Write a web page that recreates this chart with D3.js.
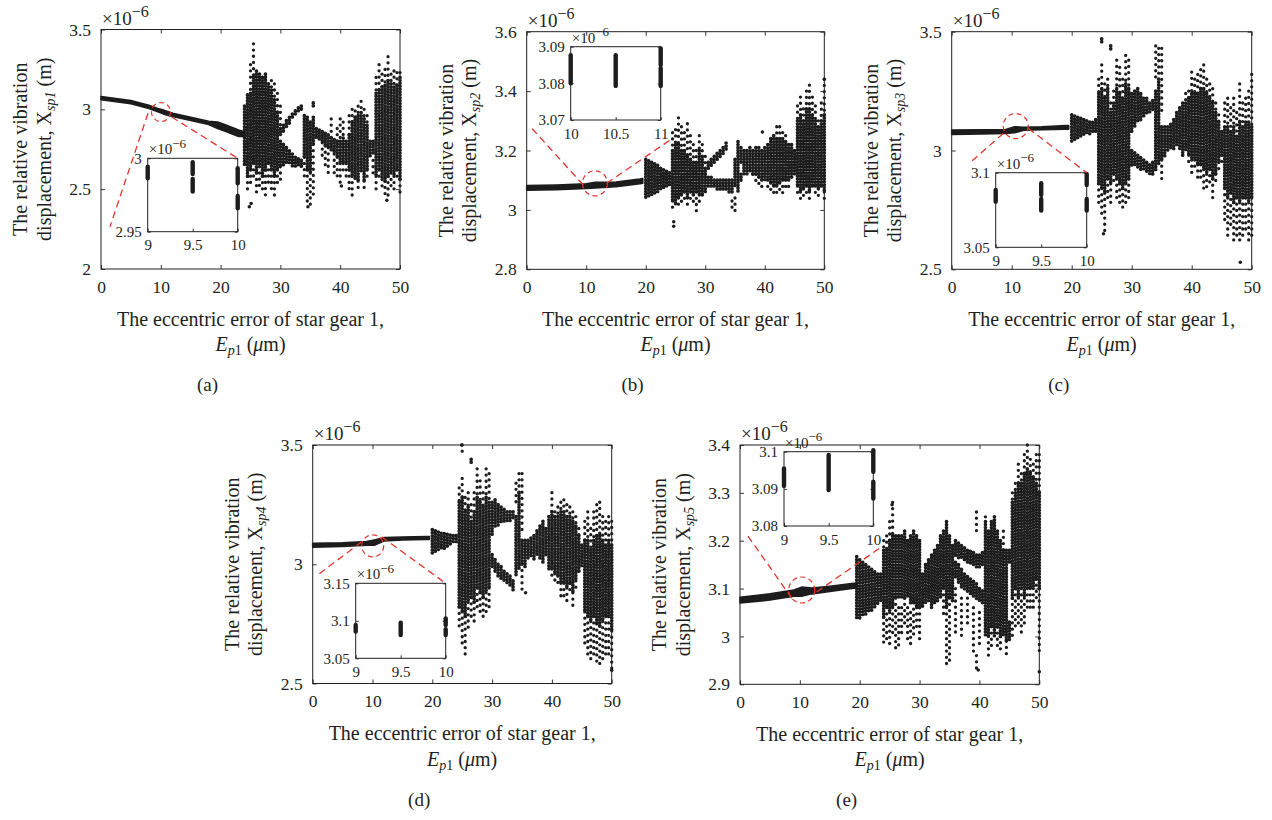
<!DOCTYPE html>
<html>
<head>
<meta charset="utf-8">
<script src="https://cdn.jsdelivr.net/npm/d3@7"></script>
<style>
  body { margin: 0; background: #fff; }
  text { font-family: "Liberation Serif", "Times New Roman", serif; fill: #231f20; }
</style>
</head>
<body>
<svg id="fig" width="1272" height="820"></svg>
<script>
// ---------- shared axis values ----------
const xTicks = [0, 10, 20, 30, 40, 50];
const xTickLabels = ["0", "10", "20", "30", "40", "50"];

// ---------- (a) X_sp1 ----------
const yTicksA = [2, 2.5, 3, 3.5];
const yTickLabelsA = ["2", "2.5", "3", "3.5"];
// period-1 branch: [E, lower, upper] (x1e-6 m)
const bandA = [[0,3.06,3.08],[5,3.035,3.055],[8,3.005,3.025],[9.5,2.985,3.005],[10.5,2.97,2.995],[12,2.955,2.975],[15,2.93,2.95],[18,2.905,2.925],[19.5,2.88,2.92],[21,2.86,2.90],[23,2.83,2.87],[24,2.83,2.86]];
// sampled Poincare points per E: [E, [[lo, hi, sparse?], ...]]
const colsA = [
 [24.0,[[2.65,3.02]]],
 [24.5,[[2.58,3.09],[2.50,2.58,1]]],
 [25.0,[[2.62,3.10],[3.10,3.28,1],[2.52,2.62,1]]],
 [25.5,[[2.66,3.20],[3.20,3.41,1],[2.56,2.66,1]]],
 [26.0,[[2.60,3.24],[2.48,2.60,1]]],
 [26.5,[[2.64,3.22],[2.52,2.64,1]]],
 [27.0,[[2.58,3.20],[2.48,2.58,1]]],
 [27.5,[[2.62,3.22],[2.46,2.62,1]]],
 [28.0,[[2.66,3.16],[2.52,2.66,1]]],
 [28.5,[[2.62,3.12],[2.50,2.62,1],[3.12,3.18,1]]],
 [29.0,[[2.58,3.06],[2.44,2.58,1],[3.06,3.16,1]]],
 [29.5,[[2.62,2.98],[2.52,2.62,1],[2.98,3.10,1]]],
 [30.0,[[2.64,2.80],[2.84,2.88],[2.56,2.64,1],[2.90,3.02,1]]],
 [30.5,[[2.64,2.78],[2.86,2.90]]],
 [31.0,[[2.66,2.76],[2.89,2.93]]],
 [31.5,[[2.66,2.74],[2.91,2.95]]],
 [32.0,[[2.64,2.72],[2.94,2.97]]],
 [32.5,[[2.64,2.70],[2.96,2.99]]],
 [33.0,[[2.65,2.69],[2.98,3.01]]],
 [33.5,[[2.64,2.68],[2.99,3.02]]],
 [34.0,[[2.70,2.96],[2.55,2.70,1]]],
 [34.5,[[2.62,2.95],[2.40,2.62,1]]],
 [35.0,[[2.60,2.92],[2.39,2.60,1]]],
 [35.5,[[2.78,2.95],[2.46,2.78,1],[3.02,3.04]]],
 [36.0,[[2.82,2.88]]],
 [36.5,[[2.80,2.87]]],
 [37.0,[[2.79,2.86],[2.70,2.79,1]]],
 [37.5,[[2.77,2.85],[2.62,2.77,1]]],
 [38.0,[[2.76,2.84],[2.60,2.76,1]]],
 [38.5,[[2.74,2.82],[2.82,2.94,1]]],
 [39.0,[[2.72,2.81],[2.58,2.72,1]]],
 [39.5,[[2.70,2.80],[2.80,2.88,1],[2.58,2.70,1]]],
 [40.0,[[2.66,2.80],[2.52,2.66,1],[2.80,2.94,1]]],
 [40.5,[[2.66,2.82],[2.82,2.92,1],[2.60,2.66,1]]],
 [41.0,[[2.66,2.80],[2.56,2.66,1]]],
 [41.5,[[2.62,2.84],[2.50,2.62,1],[2.84,2.96,1]]],
 [42.0,[[2.58,2.92],[2.46,2.58,1],[2.92,3.00,1]]],
 [42.5,[[2.56,2.95],[2.95,2.99,1]]],
 [43.0,[[2.55,2.96],[2.48,2.55,1],[2.96,3.02,1]]],
 [43.5,[[2.60,2.98],[2.98,3.05,1]]],
 [44.0,[[2.55,2.94],[2.50,2.55,1],[2.94,3.00,1]]],
 [44.5,[[2.62,2.90],[2.90,2.96,1],[2.56,2.62,1]]],
 [45.0,[[2.70,2.80]]],
 [45.5,[[2.71,2.80],[2.60,2.68,1]]],
 [46.0,[[2.58,3.10],[3.10,3.20,1],[2.48,2.58,1]]],
 [46.5,[[2.62,3.12],[3.12,3.28,1],[2.55,2.62,1]]],
 [47.0,[[2.56,3.14],[3.14,3.22,1],[2.50,2.56,1]]],
 [47.5,[[2.55,3.15],[3.15,3.25,1],[2.44,2.55,1]]],
 [48.0,[[2.58,3.18],[3.18,3.33,1],[2.43,2.58,1]]],
 [48.5,[[2.60,3.16],[3.16,3.22,1],[2.50,2.60,1]]],
 [49.0,[[2.58,3.14],[3.14,3.24,1],[2.50,2.58,1]]],
 [49.5,[[2.62,3.15],[3.15,3.23,1],[2.55,2.62,1]]],
 [50.0,[[2.56,3.20],[3.20,3.23,1],[2.46,2.56,1]]]
];
const dotsA = [[24.8,2.39],[25.1,2.41],[34.6,2.39],[47.8,2.43],[40.2,2.52]];
const insetXTicksA = [9, 9.5, 10];
const insetXLabelsA = ["9", "9.5", "10"];
const insetYTicksA = [2.95, 3];
const insetYLabelsA = ["2.95", "3"];
const insetBarsA = [[9,2.9864,2.9943],[9.5,2.9893,2.9973],[9.5,2.9773,2.9859],[10,2.983,2.9932],[10,2.9659,2.9743]];

// ---------- (b) X_sp2 ----------
const yTicksB = [2.8, 3, 3.2, 3.4, 3.6];
const yTickLabelsB = ["2.8", "3", "3.2", "3.4", "3.6"];
const bandB = [[0,3.066,3.082],[5,3.068,3.084],[10,3.072,3.088],[11.5,3.074,3.093],[15,3.078,3.094],[19,3.088,3.104],[19.5,3.09,3.106]];
const colsB = [
 [20.0,[[3.04,3.17]]],
 [20.5,[[3.045,3.165]]],
 [21.0,[[3.05,3.16]]],
 [21.5,[[3.055,3.155]]],
 [22.0,[[3.06,3.15]]],
 [22.5,[[3.065,3.14]]],
 [23.0,[[3.07,3.135]]],
 [23.5,[[3.075,3.13]]],
 [24.0,[[3.08,3.125]]],
 [24.5,[[3.03,3.20],[3.20,3.26,1],[3.00,3.03,1]]],
 [25.0,[[3.02,3.22],[3.22,3.27,1],[3.00,3.02,1]]],
 [25.5,[[3.04,3.22],[3.22,3.31,1],[3.00,3.04,1]]],
 [26.0,[[3.05,3.20],[3.20,3.28,1],[3.02,3.05,1]]],
 [26.5,[[3.06,3.20],[3.20,3.26,1],[3.03,3.06,1]]],
 [27.0,[[3.04,3.18],[3.18,3.29,1],[3.00,3.04,1]]],
 [27.5,[[3.06,3.17],[3.17,3.25,1],[3.03,3.06,1]]],
 [28.0,[[3.05,3.16],[3.16,3.22,1],[3.02,3.05,1]]],
 [28.5,[[3.06,3.16],[3.16,3.20,1],[2.99,3.06,1]]],
 [29.0,[[3.05,3.20],[3.20,3.25,1],[3.02,3.05,1]]],
 [29.5,[[3.05,3.18],[3.18,3.22,1],[3.03,3.05,1]]],
 [30.0,[[3.06,3.14],[3.14,3.18,1]]],
 [30.5,[[3.08,3.11],[3.14,3.16]]],
 [31.0,[[3.08,3.11],[3.15,3.17]]],
 [31.5,[[3.08,3.10],[3.16,3.18]]],
 [32.0,[[3.07,3.10],[3.17,3.19]]],
 [32.5,[[3.07,3.10],[3.18,3.20]]],
 [33.0,[[3.07,3.10],[3.19,3.21]]],
 [33.5,[[3.07,3.10],[3.20,3.225]]],
 [34.0,[[3.06,3.10]]],
 [34.5,[[3.06,3.10],[3.00,3.03,1]]],
 [35.0,[[3.08,3.17],[2.99,3.04,1]]],
 [35.5,[[3.06,3.23]]],
 [36.0,[[3.10,3.12],[3.16,3.21]]],
 [36.5,[[3.12,3.20]]],
 [37.0,[[3.12,3.20]]],
 [37.5,[[3.13,3.21]]],
 [38.0,[[3.12,3.20],[3.10,3.12,1]]],
 [38.5,[[3.12,3.21],[3.08,3.12,1]]],
 [39.0,[[3.11,3.21],[3.08,3.11,1]]],
 [39.5,[[3.10,3.20],[3.06,3.10,1]]],
 [40.0,[[3.10,3.21]]],
 [40.5,[[3.10,3.22],[3.06,3.10,1]]],
 [41.0,[[3.09,3.24],[3.05,3.09,1]]],
 [41.5,[[3.08,3.25],[3.04,3.08,1]]],
 [42.0,[[3.08,3.24],[3.24,3.28,1],[3.04,3.08,1]]],
 [42.5,[[3.09,3.24],[3.24,3.28,1],[3.05,3.09,1]]],
 [43.0,[[3.10,3.24],[3.24,3.26,1],[3.05,3.10,1]]],
 [43.5,[[3.10,3.23],[3.23,3.25,1],[3.07,3.10,1]]],
 [44.0,[[3.10,3.22],[3.06,3.10,1]]],
 [44.5,[[3.11,3.22],[3.09,3.11,1]]],
 [45.0,[[3.12,3.20]]],
 [45.5,[[3.08,3.30],[3.30,3.35,1],[3.05,3.08,1]]],
 [46.0,[[3.06,3.32],[3.32,3.38,1],[3.03,3.06,1]]],
 [46.5,[[3.07,3.30],[3.30,3.34,1],[3.04,3.07,1]]],
 [47.0,[[3.08,3.34],[3.34,3.40,1],[3.05,3.08,1]]],
 [47.5,[[3.06,3.34],[3.34,3.42,1],[3.03,3.06,1]]],
 [48.0,[[3.08,3.32],[3.32,3.38,1],[3.06,3.08,1]]],
 [48.5,[[3.08,3.30],[3.30,3.35,1],[3.05,3.08,1]]],
 [49.0,[[3.07,3.28],[3.28,3.30,1],[3.04,3.07,1]]],
 [49.5,[[3.08,3.30],[3.30,3.36,1],[3.06,3.08,1]]],
 [50.0,[[3.06,3.32],[3.32,3.44,1],[3.03,3.06,1]]]
];
const dotsB = [[24.7,2.945],[24.7,2.96],[39.6,3.262],[50,3.44]];
const insetXTicksB = [10, 10.5, 11];
const insetXLabelsB = ["10", "10.5", "11"];
const insetYTicksB = [3.07, 3.08, 3.09];
const insetYLabelsB = ["3.07", "3.08", "3.09"];
const insetBarsB = [[10,3.08,3.0877],[10.5,3.0793,3.0877],[11,3.085,3.0895],[11,3.0793,3.0841]];

// ---------- (c) X_sp3 ----------
const yTicksC = [2.5, 3, 3.5];
const yTickLabelsC = ["2.5", "3", "3.5"];
const bandC = [[0,3.068,3.086],[5,3.07,3.087],[9,3.072,3.088],[10.5,3.075,3.10],[12,3.085,3.098],[15,3.088,3.10],[19,3.09,3.105],[19.5,3.09,3.105]];
const colsC = [
 [20.0,[[3.04,3.15]]],
 [20.5,[[3.045,3.145]]],
 [21.0,[[3.05,3.14]]],
 [21.5,[[3.055,3.135]]],
 [22.0,[[3.06,3.13]]],
 [22.5,[[3.065,3.125]]],
 [23.0,[[3.07,3.12]]],
 [23.5,[[3.075,3.118]]],
 [24.0,[[3.08,3.13]]],
 [24.5,[[2.86,3.24],[3.24,3.30,1],[2.78,2.86,1]]],
 [25.0,[[2.84,3.26],[3.26,3.36,1],[2.72,2.84,1],[3.45,3.47]]],
 [25.5,[[2.82,3.22],[3.22,3.28,1],[2.65,2.82,1]]],
 [26.0,[[2.88,3.26],[3.26,3.30,1],[2.80,2.88,1]]],
 [26.5,[[2.86,3.16],[3.16,3.20,1],[2.76,2.86,1],[3.42,3.44]]],
 [27.0,[[2.90,3.20],[3.20,3.25,1],[2.85,2.90,1]]],
 [27.5,[[2.88,3.26],[3.26,3.38,1],[2.80,2.88,1]]],
 [28.0,[[2.86,3.24],[3.24,3.35,1],[2.78,2.86,1]]],
 [28.5,[[2.84,3.22],[3.22,3.30,1],[2.75,2.84,1]]],
 [29.0,[[2.86,3.28],[3.28,3.40,1],[2.78,2.86,1]]],
 [29.5,[[2.88,3.26],[3.26,3.38,1],[2.80,2.88,1]]],
 [30.0,[[2.93,3.00],[3.08,3.24]]],
 [30.5,[[2.94,2.99],[3.10,3.25]]],
 [31.0,[[2.93,2.98],[3.12,3.26]]],
 [31.5,[[2.92,2.97],[3.13,3.24]]],
 [32.0,[[2.92,2.96],[3.14,3.22]]],
 [32.5,[[2.91,2.95],[3.15,3.22]]],
 [33.0,[[2.90,2.94],[3.16,3.20]]],
 [33.5,[[2.90,2.95],[3.17,3.21]]],
 [34.0,[[2.92,3.25],[3.30,3.44,1]]],
 [34.5,[[2.94,3.30],[3.32,3.43,1]]],
 [35.0,[[2.96,3.10],[3.15,3.43,1],[2.86,2.96,1]]],
 [35.5,[[2.97,3.10]]],
 [36.0,[[3.00,3.10]]],
 [36.5,[[3.01,3.11]]],
 [37.0,[[3.00,3.13]]],
 [37.5,[[3.02,3.16]]],
 [38.0,[[3.00,3.18]]],
 [38.5,[[2.98,3.20]]],
 [39.0,[[3.00,3.20],[3.20,3.24,1]]],
 [39.5,[[2.98,3.22],[3.22,3.25,1],[2.95,2.98,1]]],
 [40.0,[[2.96,3.24],[3.24,3.33,1],[2.90,2.96,1]]],
 [40.5,[[2.96,3.24],[3.24,3.30,1],[2.92,2.96,1]]],
 [41.0,[[2.94,3.24],[3.24,3.32,1],[2.88,2.94,1]]],
 [41.5,[[2.94,3.26],[3.26,3.34,1],[2.87,2.94,1]]],
 [42.0,[[2.92,3.26],[3.26,3.36,1],[2.84,2.92,1]]],
 [42.5,[[2.90,3.24],[3.24,3.30,1],[2.83,2.90,1]]],
 [43.0,[[2.92,3.22],[3.22,3.28,1],[2.86,2.92,1]]],
 [43.5,[[2.88,3.20],[3.20,3.26,1],[2.80,2.88,1]]],
 [44.0,[[2.90,3.16],[3.16,3.20,1],[2.85,2.90,1]]],
 [44.5,[[2.95,3.12],[3.12,3.15,1],[2.92,2.95,1]]],
 [45.0,[[2.98,3.08],[2.95,2.98,1]]],
 [45.5,[[2.84,3.10],[3.10,3.20,1],[2.70,2.84,1]]],
 [46.0,[[2.80,3.10],[3.10,3.22,1],[2.62,2.80,1]]],
 [46.5,[[2.82,3.08],[3.08,3.18,1],[2.68,2.82,1]]],
 [47.0,[[2.78,3.10],[3.10,3.22,1],[2.60,2.78,1]]],
 [47.5,[[2.80,3.06],[3.06,3.16,1],[2.62,2.80,1]]],
 [48.0,[[2.78,3.12],[3.12,3.28,1],[2.60,2.78,1]]],
 [48.5,[[2.80,3.10],[3.10,3.20,1],[2.62,2.80,1]]],
 [49.0,[[2.80,3.12],[3.12,3.22,1],[2.65,2.80,1]]],
 [49.5,[[2.78,3.12],[3.12,3.25,1],[2.60,2.78,1]]],
 [50.0,[[2.80,3.10],[3.10,3.32,1],[2.62,2.80,1]]]
];
const dotsC = [[48.1,2.53],[25.3,2.65]];
const insetXTicksC = [9, 9.5, 10];
const insetXLabelsC = ["9", "9.5", "10"];
const insetYTicksC = [3.05, 3.1];
const insetYLabelsC = ["3.05", "3.1"];
const insetBarsC = [[9,3.0806,3.0884],[9.5,3.085,3.0929],[9.5,3.0746,3.0824],[10,3.0917,3.0991],[10,3.0746,3.0824]];

// ---------- (d) X_sp4 ----------
const yTicksD = [2.5, 3, 3.5];
const yTickLabelsD = ["2.5", "3", "3.5"];
const bandD = [[0,3.072,3.088],[5,3.075,3.09],[9,3.08,3.095],[10.3,3.08,3.102],[12,3.098,3.112],[15,3.102,3.114],[19,3.104,3.116],[19.5,3.104,3.116]];
const colsD = [
 [20.0,[[3.04,3.145]]],
 [20.5,[[3.045,3.14]]],
 [21.0,[[3.05,3.135]]],
 [21.5,[[3.06,3.13]]],
 [22.0,[[3.065,3.128]]],
 [22.5,[[3.07,3.125]]],
 [23.0,[[3.08,3.122]]],
 [23.5,[[3.085,3.12]]],
 [24.0,[[3.09,3.12]]],
 [24.5,[[2.82,3.26],[3.26,3.32,1],[2.72,2.82,1]]],
 [25.0,[[2.80,3.28],[3.28,3.36,1],[2.65,2.80,1],[3.46,3.50,1]]],
 [25.5,[[2.78,3.22],[3.22,3.28,1],[2.62,2.78,1]]],
 [26.0,[[2.84,3.24],[3.24,3.30,1],[2.72,2.84,1]]],
 [26.5,[[2.86,3.18],[3.18,3.25,1],[2.78,2.86,1],[3.42,3.44]]],
 [27.0,[[2.84,3.22],[3.22,3.30,1],[2.75,2.84,1]]],
 [27.5,[[2.90,3.28],[3.28,3.40,1],[2.82,2.90,1]]],
 [28.0,[[2.88,3.26],[3.26,3.35,1],[2.78,2.88,1]]],
 [28.5,[[2.86,3.24],[3.24,3.30,1],[2.76,2.86,1]]],
 [29.0,[[2.88,3.28],[3.28,3.40,1],[2.80,2.88,1]]],
 [29.5,[[2.90,3.26],[3.26,3.38,1],[2.82,2.90,1]]],
 [30.0,[[2.98,3.04],[3.12,3.26]]],
 [30.5,[[2.96,3.02],[3.15,3.27]]],
 [31.0,[[2.95,3.00],[3.16,3.25]]],
 [31.5,[[2.94,2.99],[3.17,3.24]]],
 [32.0,[[2.93,2.97],[3.17,3.23]]],
 [32.5,[[2.92,2.96],[3.18,3.22]]],
 [33.0,[[2.91,2.95],[3.18,3.22]]],
 [33.5,[[2.89,2.93],[3.19,3.22]]],
 [34.0,[[2.95,3.20],[3.25,3.34,1]]],
 [34.5,[[2.98,3.30],[3.30,3.38,1]]],
 [35.0,[[3.00,3.10],[3.14,3.38,1],[2.88,3.00,1]]],
 [35.5,[[2.98,3.10]]],
 [36.0,[[3.02,3.10]]],
 [36.5,[[3.03,3.11]]],
 [37.0,[[3.02,3.12]]],
 [37.5,[[3.04,3.14]]],
 [38.0,[[3.02,3.16]]],
 [38.5,[[3.00,3.18]]],
 [39.0,[[3.03,3.15]]],
 [39.5,[[2.98,3.20]]],
 [40.0,[[2.98,3.22],[3.22,3.30,1],[2.95,2.98,1]]],
 [40.5,[[2.96,3.20],[3.20,3.22,1],[2.92,2.96,1]]],
 [41.0,[[2.95,3.20],[3.20,3.24,1],[2.90,2.95,1]]],
 [41.5,[[2.92,3.22],[3.22,3.26,1],[2.85,2.92,1]]],
 [42.0,[[2.92,3.22],[3.22,3.27,1],[2.86,2.92,1]]],
 [42.5,[[2.90,3.20],[3.20,3.25,1],[2.84,2.90,1]]],
 [43.0,[[2.92,3.20],[3.20,3.24,1],[2.88,2.92,1]]],
 [43.5,[[2.88,3.18],[3.18,3.22,1],[2.82,2.88,1]]],
 [44.0,[[2.93,3.16],[3.16,3.20,1],[2.90,2.93,1]]],
 [44.5,[[2.97,3.12],[3.12,3.15,1],[2.95,2.97,1]]],
 [45.0,[[2.99,3.08]]],
 [45.5,[[2.80,3.10],[3.10,3.18,1],[2.65,2.80,1]]],
 [46.0,[[2.78,3.10],[3.10,3.22,1],[2.62,2.78,1]]],
 [46.5,[[2.76,3.06],[3.06,3.15,1],[2.60,2.76,1]]],
 [47.0,[[2.78,3.10],[3.10,3.22,1],[2.62,2.78,1]]],
 [47.5,[[2.75,3.12],[3.12,3.25,1],[2.58,2.75,1]]],
 [48.0,[[2.74,3.12],[3.12,3.26,1],[2.58,2.74,1]]],
 [48.5,[[2.76,3.10],[3.10,3.20,1],[2.60,2.76,1]]],
 [49.0,[[2.78,3.08],[3.08,3.18,1],[2.62,2.78,1]]],
 [49.5,[[2.78,3.10],[3.10,3.20,1],[2.62,2.78,1]]],
 [50.0,[[2.72,3.08],[3.08,3.18,1],[2.56,2.72,1]]]
];
const dotsD = [[24.9,3.50],[35.6,2.88],[50,2.556]];
const insetXTicksD = [9, 9.5, 10];
const insetXLabelsD = ["9", "9.5", "10"];
const insetYTicksD = [3.05, 3.1, 3.15];
const insetYLabelsD = ["3.05", "3.1", "3.15"];
const insetBarsD = [[9,3.0856,3.0944],[9.5,3.0811,3.0976],[10,3.0944,3.1033],[10,3.0811,3.0887]];

// ---------- (e) X_sp5 ----------
const yTicksE = [2.9, 3, 3.1, 3.2, 3.3, 3.4];
const yTickLabelsE = ["2.9", "3", "3.1", "3.2", "3.3", "3.4"];
const bandE = [[0,3.07,3.082],[5,3.076,3.089],[9,3.084,3.097],[10.3,3.084,3.103],[12,3.089,3.101],[15,3.094,3.105],[19,3.101,3.111],[19.5,3.101,3.111]];
const colsE = [
 [19.5,[[3.035,3.167]]],
 [20.0,[[3.035,3.16]]],
 [20.5,[[3.04,3.155]]],
 [21.0,[[3.045,3.15]]],
 [21.5,[[3.05,3.145]]],
 [22.0,[[3.055,3.14]]],
 [22.5,[[3.06,3.135]]],
 [23.0,[[3.065,3.13]]],
 [23.5,[[3.07,3.13]]],
 [24.0,[[3.04,3.18],[3.18,3.20,1],[2.98,3.04,1]]],
 [24.5,[[3.06,3.18],[3.18,3.21,1],[2.99,3.06,1]]],
 [25.0,[[3.05,3.20],[3.20,3.24,1],[2.98,3.05,1]]],
 [25.5,[[3.06,3.21],[3.21,3.28,1],[3.00,3.06,1]]],
 [26.0,[[3.08,3.21],[2.97,3.08,1]]],
 [26.5,[[3.08,3.21],[2.98,3.06,1]]],
 [27.0,[[3.08,3.21],[3.00,3.06,1]]],
 [27.5,[[3.08,3.22],[3.02,3.08,1]]],
 [28.0,[[3.08,3.20],[2.99,3.06,1]]],
 [28.5,[[3.07,3.21],[2.98,3.05,1]]],
 [29.0,[[3.07,3.22],[3.00,3.07,1]]],
 [29.5,[[3.06,3.21],[3.02,3.06,1]]],
 [30.0,[[3.06,3.20],[2.99,3.06,1]]],
 [30.5,[[3.06,3.13]]],
 [31.0,[[3.07,3.15]]],
 [31.5,[[3.07,3.16]]],
 [32.0,[[3.06,3.17]]],
 [32.5,[[3.07,3.18]]],
 [33.0,[[3.07,3.19]]],
 [33.5,[[3.08,3.21]]],
 [34.0,[[3.10,3.22],[3.04,3.10,1]]],
 [34.5,[[3.06,3.24],[2.94,3.06,1]]],
 [35.0,[[3.08,3.21],[2.95,3.08,1]]],
 [35.5,[[3.07,3.19]]],
 [36.0,[[3.12,3.155],[3.165,3.20],[3.00,3.10,1]]],
 [36.5,[[3.11,3.15],[3.16,3.195]]],
 [37.0,[[3.10,3.14],[3.16,3.19],[3.00,3.08,1]]],
 [37.5,[[3.095,3.13],[3.155,3.185]]],
 [38.0,[[3.09,3.125],[3.15,3.18],[3.02,3.08,1]]],
 [38.5,[[3.085,3.12],[3.148,3.178]]],
 [39.0,[[3.08,3.115],[3.145,3.175],[2.96,3.06,1]]],
 [39.5,[[3.075,3.11],[3.14,3.17],[3.22,3.26,1],[2.93,2.96,1]]],
 [40.0,[[3.07,3.10],[3.14,3.17],[2.98,3.05,1]]],
 [40.5,[[3.065,3.095],[3.145,3.175]]],
 [41.0,[[3.00,3.24],[3.24,3.25,1]]],
 [41.5,[[3.00,3.22],[2.96,3.00,1]]],
 [42.0,[[3.02,3.24],[2.97,3.02,1]]],
 [42.5,[[3.00,3.25]]],
 [43.0,[[3.02,3.22],[2.98,3.02,1]]],
 [43.5,[[3.00,3.20],[2.97,3.00,1]]],
 [44.0,[[3.00,3.18],[3.18,3.22,1]]],
 [44.5,[[2.99,3.18],[2.96,2.99,1]]],
 [45.0,[[2.99,3.03],[3.15,3.18]]],
 [45.5,[[3.08,3.28],[3.28,3.30,1],[3.00,3.08,1]]],
 [46.0,[[3.10,3.30],[3.30,3.32,1],[3.01,3.10,1]]],
 [46.5,[[3.08,3.32],[3.32,3.36,1],[3.02,3.08,1]]],
 [47.0,[[3.10,3.32],[3.32,3.34,1],[3.00,3.10,1]]],
 [47.5,[[3.08,3.34],[3.34,3.38,1],[3.02,3.08,1]]],
 [48.0,[[3.10,3.35],[3.35,3.40,1],[3.05,3.10,1]]],
 [48.5,[[3.10,3.34],[3.34,3.37,1],[3.06,3.10,1]]],
 [49.0,[[3.10,3.33],[3.33,3.36,1],[3.05,3.10,1]]],
 [49.5,[[3.12,3.32],[3.32,3.38,1],[3.07,3.12,1]]],
 [50.0,[[3.10,3.30],[3.30,3.38,1],[2.96,3.10,1]]]
];
const dotsE = [[50,2.926],[39.8,2.93],[25.4,3.275]];
const insetXTicksE = [9, 9.5, 10];
const insetXLabelsE = ["9", "9.5", "10"];
const insetYTicksE = [3.08, 3.09, 3.1];
const insetYLabelsE = ["3.08", "3.09", "3.1"];
const insetBarsE = [[9,3.0908,3.0955],[9.5,3.0897,3.0991],[10,3.0946,3.1004],[10,3.0874,3.0919]];

// zoom markers: circle [E, X, radius px]; dashed leader lines in main-axis units ("tr" = inset top-right corner)
const zoomA = { circle: [10.03, 2.983, 9.5], lines: [[[7.86,2.975],[1.5,2.264]], [[11.82,2.952],"tr"]] };
const zoomB = { circle: [11.47, 3.0896, 12.5], lines: [[[9.51,3.084],[0.84,3.275]], [[13.44,3.09],[24.08,3.235]]] };
const zoomC = { circle: [10.67, 3.103, 12.5], lines: [[[8.6,3.072],[2.93,2.946]], [[12.77,3.093],"tr"]] };
const zoomD = { circle: [10.03, 3.077, 11], lines: [[[8.19,3.094],[0.67,2.952]], [[11.54,3.115],"tr"]] };
const zoomE = { circle: [10.31, 3.097, 13], lines: [[[8.64,3.08],[1.0,3.2155]], [[12.81,3.093],[23.27,3.184]]] };

// ---------- assembly ----------
const panels = [
  { tag: "(a)", sub: "1", yDomain: [2, 3.5], yTicks: yTicksA, yLabels: yTickLabelsA, band: bandA, cols: colsA, dots: dotsA,
    inset: { xDomain: [9, 10], yDomain: [2.95, 3], xTicks: insetXTicksA, xLabels: insetXLabelsA, yTicks: insetYTicksA, yLabels: insetYLabelsA, bars: insetBarsA },
    zoom: zoomA },
  { tag: "(b)", sub: "2", yDomain: [2.8, 3.6], yTicks: yTicksB, yLabels: yTickLabelsB, band: bandB, cols: colsB, dots: dotsB,
    inset: { xDomain: [10, 11], yDomain: [3.07, 3.09], xTicks: insetXTicksB, xLabels: insetXLabelsB, yTicks: insetYTicksB, yLabels: insetYLabelsB, bars: insetBarsB },
    zoom: zoomB },
  { tag: "(c)", sub: "3", yDomain: [2.5, 3.5], yTicks: yTicksC, yLabels: yTickLabelsC, band: bandC, cols: colsC, dots: dotsC,
    inset: { xDomain: [9, 10], yDomain: [3.05, 3.1], xTicks: insetXTicksC, xLabels: insetXLabelsC, yTicks: insetYTicksC, yLabels: insetYLabelsC, bars: insetBarsC },
    zoom: zoomC },
  { tag: "(d)", sub: "4", yDomain: [2.5, 3.5], yTicks: yTicksD, yLabels: yTickLabelsD, band: bandD, cols: colsD, dots: dotsD,
    inset: { xDomain: [9, 10], yDomain: [3.05, 3.15], xTicks: insetXTicksD, xLabels: insetXLabelsD, yTicks: insetYTicksD, yLabels: insetYLabelsD, bars: insetBarsD },
    zoom: zoomD },
  { tag: "(e)", sub: "5", yDomain: [2.9, 3.4], yTicks: yTicksE, yLabels: yTickLabelsE, band: bandE, cols: colsE, dots: dotsE,
    inset: { xDomain: [9, 10], yDomain: [3.08, 3.1], xTicks: insetXTicksE, xLabels: insetXLabelsE, yTicks: insetYTicksE, yLabels: insetYLabelsE, bars: insetBarsE },
    zoom: zoomE }
];

// plot boxes (px) and inset boxes relative to each plot box
const layout = [
  { left: 101,   top: 29.5, width: 299,   height: 239.5, inset: [46.7, 128.8, 90, 73.4] },
  { left: 526.7, top: 31.7, width: 297.6, height: 237.6, inset: [44, 15, 90, 73.3] },
  { left: 951.7, top: 31.7, width: 300,   height: 237.6, inset: [44, 141, 91, 74.6] },
  { left: 312.7, top: 445,  width: 299,   height: 238.5, inset: [43, 138.3, 90, 75] },
  { left: 740,   top: 445,  width: 299.3, height: 239.3, inset: [44, 6.7, 89.3, 74.3] }
];

const INK = "#1c1c1c";
const AXIS = "#231f20";
const RED = "#e3342c";
const svg = d3.select("#fig");

function styleAxis(g, size) {
  g.attr("color", AXIS).attr("font-family", null).attr("font-size", null);
  g.select(".domain").remove();
  g.selectAll(".tick line").attr("stroke-width", 0.9);
  g.selectAll(".tick text").attr("font-size", size).style("fill", AXIS);
}

function exponentLabel(parent, x, y, size, supSize) {
  const t = parent.append("text").attr("x", x).attr("y", y).attr("font-size", size);
  t.append("tspan").text("×10");
  t.append("tspan").attr("dy", -size * 0.42).attr("font-size", supSize).text("−6");
}

function drawPanel(P, L) {
  const g = svg.append("g");
  const x = d3.scaleLinear().domain([0, 50]).range([L.left, L.left + L.width]);
  const y = d3.scaleLinear().domain(P.yDomain).range([L.top + L.height, L.top]);
  const bottom = L.top + L.height;

  // period-1 branch
  g.append("path").datum(P.band)
    .attr("d", d3.area().x(d => x(d[0])).y0(d => y(d[1])).y1(d => y(d[2])))
    .attr("fill", INK).attr("stroke", INK).attr("stroke-width", 1.6).attr("stroke-linejoin", "round");

  // Poincare points drawn as dotted columns at each sampled E
  const segs = P.cols.flatMap(([e, list]) => list.map(s => ({ e, lo: s[0], hi: s[1], sparse: s[2] === 1 })));
  g.append("g").selectAll("line").data(segs).join("line")
    .attr("x1", d => x(d.e)).attr("x2", d => x(d.e))
    .attr("y1", d => y(d.hi)).attr("y2", d => y(d.lo))
    .attr("stroke", INK).attr("stroke-linecap", "round")
    .attr("stroke-width", d => d.sparse ? 3.3 : 3.7)
    .attr("stroke-dasharray", d => d.sparse ? "0 6.2" : "0 2.9");
  g.append("g").selectAll("circle").data(P.dots).join("circle")
    .attr("cx", d => x(d[0])).attr("cy", d => y(d[1])).attr("r", 1.75).attr("fill", INK);

  // axes (inward ticks on all four sides)
  const ax = g.append("g").attr("transform", `translate(0,${bottom})`)
    .call(d3.axisBottom(x).tickValues(xTicks).tickFormat((d, i) => xTickLabels[i]).tickSizeInner(-4).tickSizeOuter(0).tickPadding(11.5));
  styleAxis(ax, 17.5);
  const axT = g.append("g").attr("transform", `translate(0,${L.top})`)
    .call(d3.axisTop(x).tickValues(xTicks).tickFormat("").tickSizeInner(-4).tickSizeOuter(0));
  styleAxis(axT, 17.5);
  const ay = g.append("g").attr("transform", `translate(${L.left},0)`)
    .call(d3.axisLeft(y).tickValues(P.yTicks).tickFormat((d, i) => P.yLabels[i]).tickSizeInner(-4).tickSizeOuter(0).tickPadding(10));
  styleAxis(ay, 17.5);
  const ayR = g.append("g").attr("transform", `translate(${L.left + L.width},0)`)
    .call(d3.axisRight(y).tickValues(P.yTicks).tickFormat("").tickSizeInner(-4).tickSizeOuter(0));
  styleAxis(ayR, 17.5);
  g.append("rect").attr("x", L.left).attr("y", L.top).attr("width", L.width).attr("height", L.height)
    .attr("fill", "none").attr("stroke", AXIS).attr("stroke-width", 1);
  exponentLabel(g, L.left + 1, L.top - 5, 19, 16);

  // y label (two lines, rotated)
  const cy = L.top + L.height / 2;
  g.append("text").attr("transform", `translate(${L.left - 74},${cy}) rotate(-90)`)
    .attr("text-anchor", "middle").attr("font-size", 20).text("The relative vibration");
  const yl = g.append("text").attr("transform", `translate(${L.left - 50.5},${cy}) rotate(-90)`)
    .attr("text-anchor", "middle").attr("font-size", 20);
  yl.append("tspan").text("displacement, X");
  yl.append("tspan").attr("dy", 4).attr("font-size", 14).attr("font-style", "italic").text("sp" + P.sub);
  yl.append("tspan").attr("dy", -4).text("  (m)");

  // x label (two lines) and panel tag
  const cx = L.left + L.width / 2;
  g.append("text").attr("x", cx).attr("y", bottom + 56.5).attr("text-anchor", "middle").attr("font-size", 20)
    .text("The eccentric error of star gear 1,");
  const xl = g.append("text").attr("x", cx).attr("y", bottom + 82).attr("text-anchor", "middle").attr("font-size", 20);
  xl.append("tspan").attr("font-style", "italic").text("E");
  xl.append("tspan").attr("dy", 4).attr("font-size", 14).attr("font-style", "italic").text("p");
  xl.append("tspan").attr("font-size", 14).text("1");
  xl.append("tspan").attr("dy", -4).text(" (");
  xl.append("tspan").attr("font-style", "italic").text("μ");
  xl.append("tspan").text("m)");
  g.append("text").attr("x", cx - 43).attr("y", bottom + 122).attr("text-anchor", "middle").attr("font-size", 19).text(P.tag);

  // inset
  const I = P.inset;
  const ix0 = L.left + L.inset[0], iy0 = L.top + L.inset[1], iw = L.inset[2], ih = L.inset[3];
  const xi = d3.scaleLinear().domain(I.xDomain).range([ix0, ix0 + iw]);
  const yi = d3.scaleLinear().domain(I.yDomain).range([iy0 + ih, iy0]);
  const gi = g.append("g");
  gi.append("rect").attr("x", ix0).attr("y", iy0).attr("width", iw).attr("height", ih).attr("fill", "#fff");
  gi.append("g").selectAll("line").data(I.bars).join("line")
    .attr("x1", d => xi(d[0])).attr("x2", d => xi(d[0]))
    .attr("y1", d => yi(d[2])).attr("y2", d => yi(d[1]))
    .attr("stroke", INK).attr("stroke-width", 4.4).attr("stroke-linecap", "round");
  const bx = gi.append("g").attr("transform", `translate(0,${iy0 + ih})`)
    .call(d3.axisBottom(xi).tickValues(I.xTicks).tickFormat((d, i) => I.xLabels[i]).tickSizeInner(-3).tickSizeOuter(0).tickPadding(8));
  styleAxis(bx, 15);
  const by = gi.append("g").attr("transform", `translate(${ix0},0)`)
    .call(d3.axisLeft(yi).tickValues(I.yTicks).tickFormat((d, i) => I.yLabels[i]).tickSizeInner(-3).tickSizeOuter(0).tickPadding(6));
  styleAxis(by, 15);
  const byR = gi.append("g").attr("transform", `translate(${ix0 + iw},0)`)
    .call(d3.axisRight(yi).tickValues(I.yTicks).tickFormat("").tickSizeInner(-3).tickSizeOuter(0));
  styleAxis(byR, 15);
  gi.append("rect").attr("x", ix0).attr("y", iy0).attr("width", iw).attr("height", ih)
    .attr("fill", "none").attr("stroke", AXIS).attr("stroke-width", 1);
  exponentLabel(gi, ix0 + 1, iy0 - 4, 15, 13);

  // zoom circle and leader lines
  const Z = P.zoom;
  const pt = p => p === "tr" ? [ix0 + iw, iy0] : [x(p[0]), y(p[1])];
  g.append("circle").attr("cx", x(Z.circle[0])).attr("cy", y(Z.circle[1])).attr("r", Z.circle[2])
    .attr("fill", "none").attr("stroke", RED).attr("stroke-width", 1.2).attr("stroke-dasharray", "5 3.5");
  g.append("g").selectAll("line").data(Z.lines).join("line")
    .attr("x1", d => pt(d[0])[0]).attr("y1", d => pt(d[0])[1])
    .attr("x2", d => pt(d[1])[0]).attr("y2", d => pt(d[1])[1])
    .attr("stroke", RED).attr("stroke-width", 1.3).attr("stroke-dasharray", "7 4.5");
}

panels.forEach((P, i) => drawPanel(P, layout[i]));
</script>
</body>
</html>
